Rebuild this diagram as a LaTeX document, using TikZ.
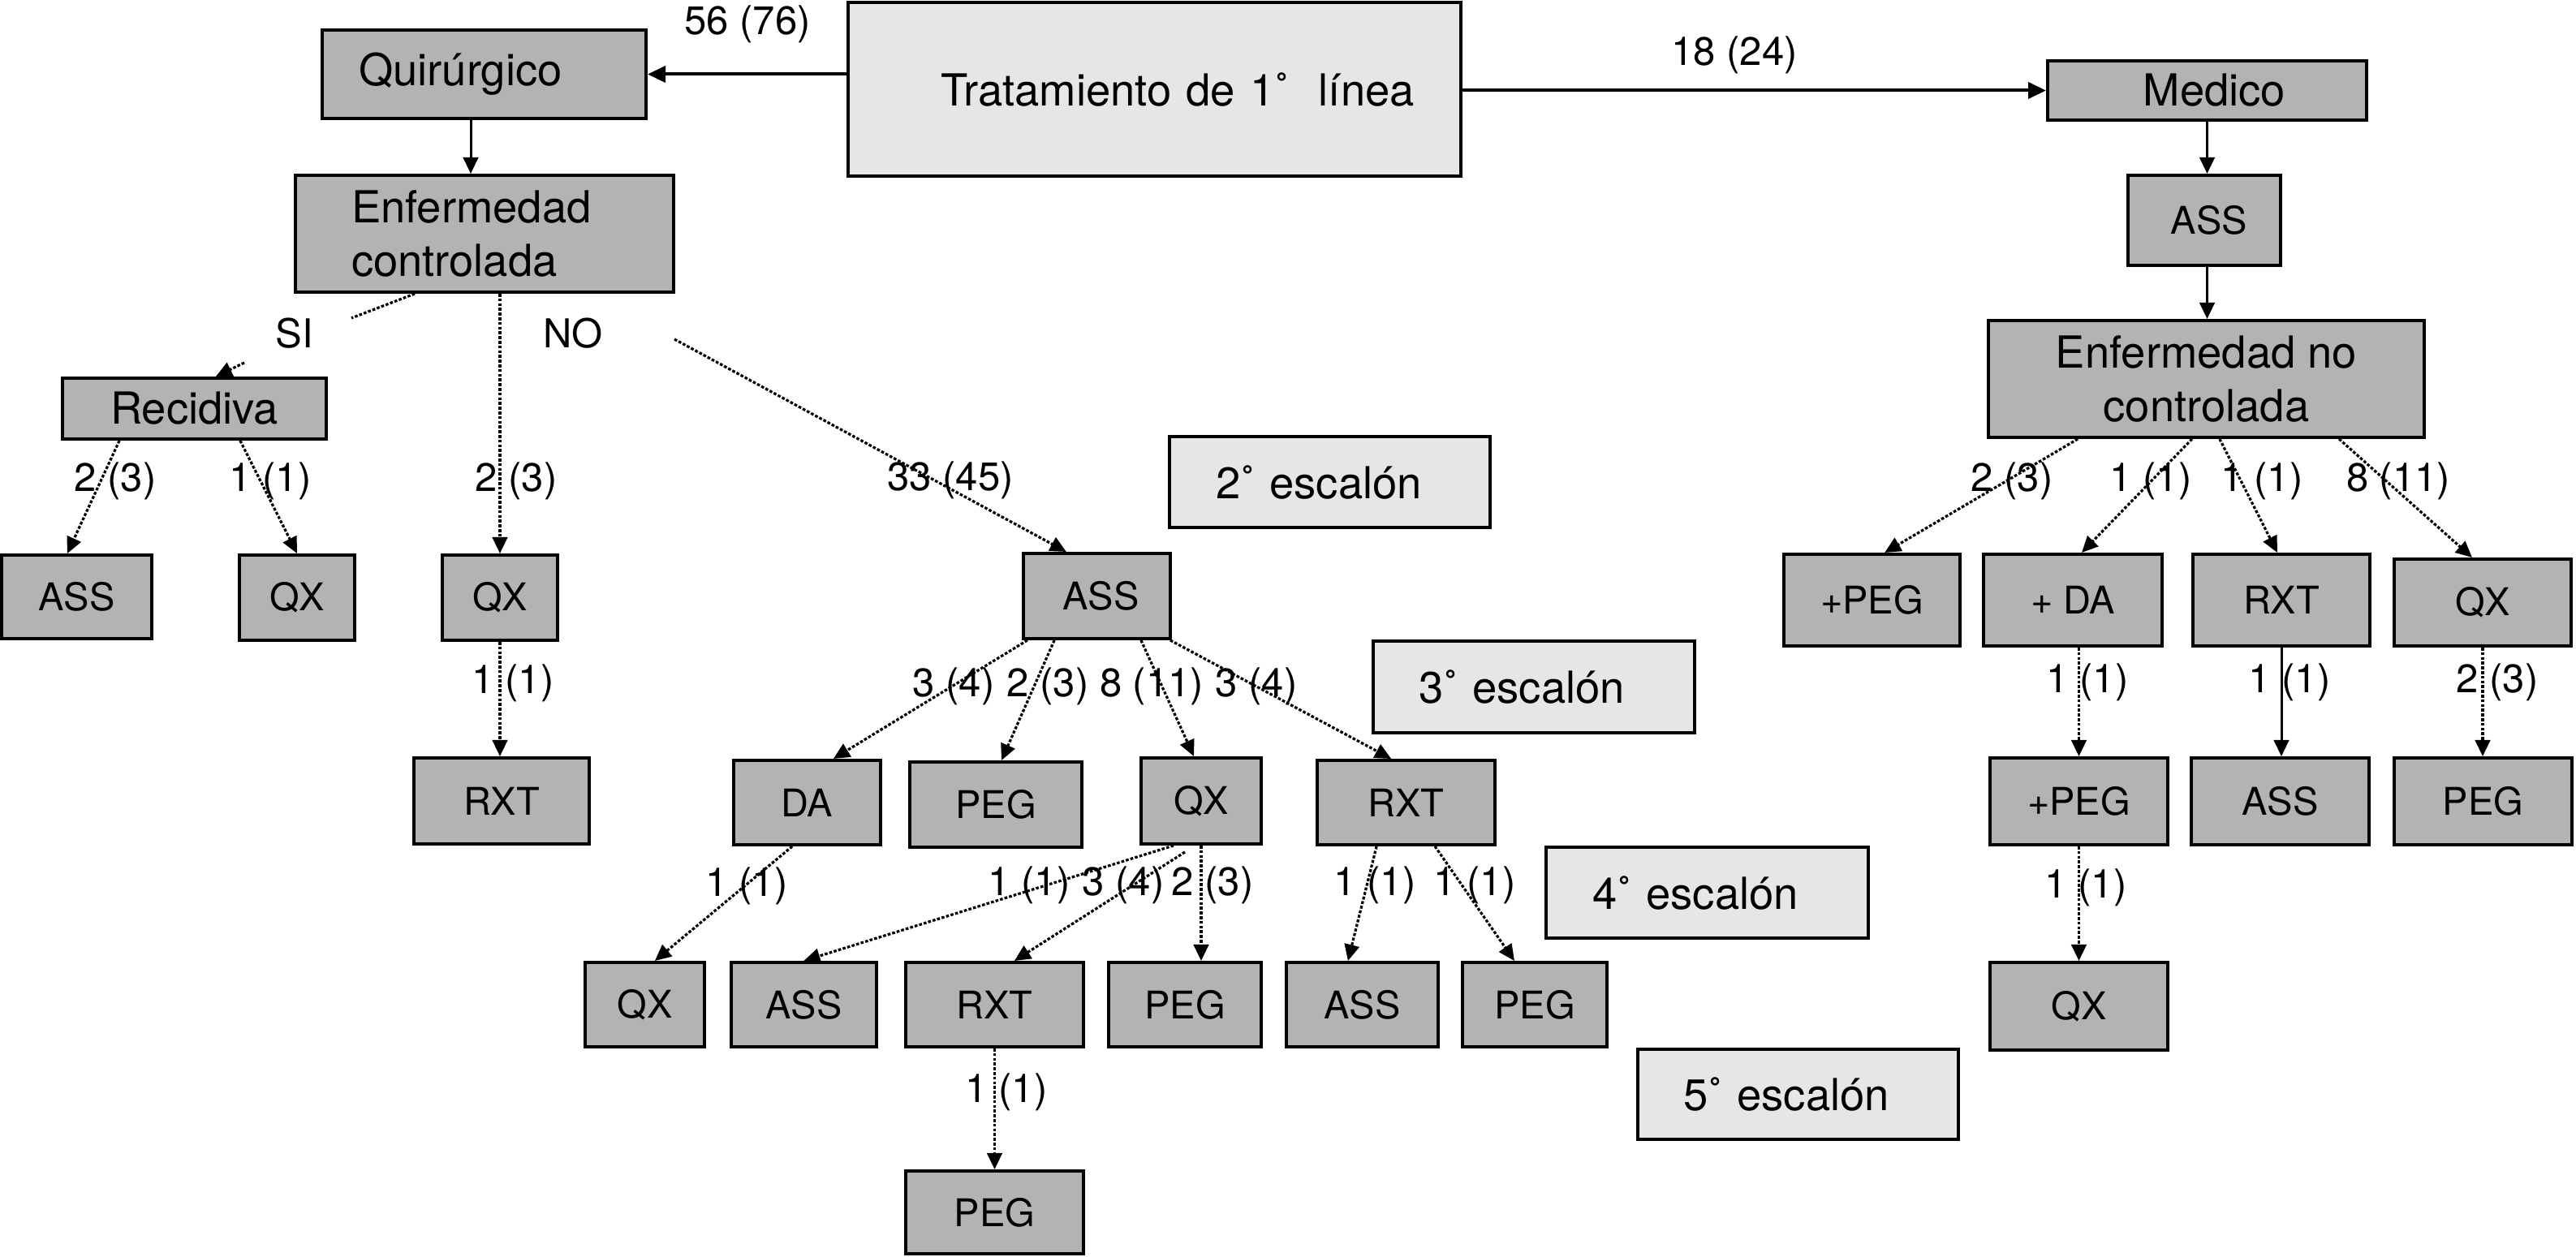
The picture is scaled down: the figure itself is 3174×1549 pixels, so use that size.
\documentclass[tikz,border=0pt]{standalone}
\usepackage{fontspec}
\setmainfont{TeX Gyre Heros}
\usetikzlibrary{arrows.meta}
\definecolor{boxgray}{HTML}{B3B3B3}
\definecolor{lightfill}{HTML}{E6E6E6}
\begin{document}
\begin{tikzpicture}[x=0.25pt, y=-0.25pt,
  box/.style={draw=black, line width=1pt, fill=boxgray, inner sep=0pt, font=\fontsize{11.75}{14}\selectfont},
  bigbox/.style={box, font=\fontsize{13.6}{16.5}\selectfont},
  lightbox/.style={bigbox, fill=lightfill},
  lab/.style={font=\fontsize{12.25}{14}\selectfont, inner sep=0pt},
  mainline/.style={line width=1pt, -{Triangle[length=5.5pt,width=5pt]}},
  thinmain/.style={line width=0.75pt, -{Triangle[length=5pt,width=4.6pt]}},
  dotline/.style={line width=0.8pt, dash pattern=on 0.9pt off 0.55pt},
  dots/.style={dotline, -{Triangle[length=5pt,width=4.6pt]}}]
\useasboundingbox (0,0) rectangle (3174,1549);

% top level
\node[lightbox, text width=188.75pt, minimum height=53.5pt, align=left] (trat) at (1422.5,110) {\hspace*{28.5pt}Tratamiento de 1˚~~línea};
\node[bigbox, text width=99.75pt, minimum height=27.25pt, align=left] (quir) at (596.5,91.5) {\hspace*{11.25pt}Quirúrgico};
\node[bigbox, minimum width=98.25pt, minimum height=18.25pt] (medico) at (2719.5,111.5) {\hspace*{4.5pt}Medico};

% left branch
\node[bigbox, text width=116.5pt, minimum height=36pt, align=left] (enfc) at (597,288) {\hspace*{17.25pt}Enfermedad\\\hspace*{17.25pt}controlada};
\node[bigbox, minimum width=81.25pt, minimum height=18.75pt] (recid) at (239.5,503.5) {Recidiva};
\node[box, minimum width=46.25pt, minimum height=25.75pt] (ass1) at (94.5,735.5) {ASS};
\node[box, minimum width=35.5pt, minimum height=26.25pt] (qx1) at (366,736.5) {QX};
\node[box, minimum width=35.5pt, minimum height=26.25pt] (qx2) at (616,736.5) {QX};
\node[box, minimum width=54pt, minimum height=26.5pt] (rxt1) at (618,987) {RXT};
\node[box, minimum width=45.25pt, minimum height=26.25pt] (assm) at (1351.5,734.5) {\hspace*{2.5pt}ASS};
\node[box, minimum width=45.25pt, minimum height=26pt] (da) at (994.5,989) {DA};
\node[box, minimum width=53pt, minimum height=26.25pt] (peg1) at (1227,991.5) {PEG};
\node[box, minimum width=37pt, minimum height=26.5pt] (qx3) at (1480,987) {QX};
\node[box, minimum width=54.75pt, minimum height=26pt] (rxt2) at (1732.5,989) {RXT};
\node[box, minimum width=36.75pt, minimum height=26pt] (qx4) at (794.5,1238) {QX};
\node[box, minimum width=44.75pt, minimum height=26pt] (ass2) at (990.5,1238) {ASS};
\node[box, minimum width=54.75pt, minimum height=26pt] (rxt3) at (1225.5,1238) {RXT};
\node[box, minimum width=47pt, minimum height=26pt] (peg2) at (1460,1238) {PEG};
\node[box, minimum width=46.75pt, minimum height=26pt] (ass3) at (1678.5,1238) {ASS};
\node[box, minimum width=44.5pt, minimum height=26pt] (peg3) at (1891,1238) {PEG};
\node[box, minimum width=54.75pt, minimum height=25.5pt] (peg4) at (1225.5,1494) {PEG};

% right branch
\node[box, minimum width=47pt, minimum height=27.75pt] (assr) at (2716,271.5) {\hspace*{3pt}ASS};
\node[bigbox, minimum width=134.25pt, minimum height=36pt, align=center] (enfn) at (2718.5,467) {Enfermedad no\\controlada};
\node[box, minimum width=54.25pt, minimum height=28.25pt] (pegp1) at (2306.5,739.5) {+PEG};
\node[box, minimum width=55pt, minimum height=28.25pt] (pda) at (2554,739.5) {+ DA};
\node[box, minimum width=54.5pt, minimum height=28.25pt] (rxtr) at (2811,739.5) {RXT};
\node[box, minimum width=54.5pt, minimum height=26.75pt] (qxr) at (3059,742.5) {QX};
\node[box, minimum width=54.75pt, minimum height=26.75pt] (pegp2) at (2561.5,987.5) {+PEG};
\node[box, minimum width=54.75pt, minimum height=26.75pt] (assr2) at (2809.5,987.5) {ASS};
\node[box, minimum width=54.75pt, minimum height=26.75pt] (pegr) at (3059.5,987.5) {PEG};
\node[box, minimum width=54.75pt, minimum height=27pt] (qxr2) at (2561.5,1240) {QX};

% escalones
\node[lightbox, text width=98.75pt, minimum height=28pt, align=left] (esc2) at (1638.5,594) {\hspace*{14.25pt}2˚ escalón};
\node[lightbox, text width=99pt, minimum height=28.25pt, align=left] (esc3) at (1890,846.5) {\hspace*{14pt}3˚ escalón};
\node[lightbox, text width=99.25pt, minimum height=28pt, align=left] (esc4) at (2103.5,1100) {\hspace*{14.25pt}4˚ escalón};
\node[lightbox, text width=98.75pt, minimum height=27.75pt, align=left] (esc5) at (2215.5,1348.5) {\hspace*{14pt}5˚ escalón};

% connectors
\draw[mainline] (trat.west |- quir.center) -- (quir.east);
\draw[mainline] (trat.east |- medico.center) -- (medico.west);
\draw[thinmain] ([xshift=-4.125pt]quir.south) -- ([xshift=-4.125pt]quir.south |- enfc.north);
\draw[thinmain] (medico.south) -- (medico.south |- assr.north);
\draw[thinmain] (medico.south |- assr.south) -- (medico.south |- enfn.north);

\coordinate (si1) at (433,392);
\coordinate (si2) at (301,447);
\coordinate (no1) at (831,418);
\draw[dotline] ([xshift=-21.5pt]enfc.south) -- (si1);
\draw[dots] (si2) -- ([xshift=6.6pt]recid.north);
\draw[dots] (no1) -- ([xshift=-9.4pt]assm.north);
\draw[dots] (qx2.north |- enfc.south) -- (qx2.north);
\draw[dots] ([xshift=-23.1pt]recid.south) -- ([xshift=-2.9pt]ass1.north);
\draw[dots] ([xshift=14.1pt]recid.south) -- (qx1.north);
\draw[dots] (qx2.south) -- (qx2.south |- rxt1.north);
\draw[dots] ([xshift=-21.4pt]assm.south) -- ([xshift=8.1pt]da.north);
\draw[dots] ([xshift=-13.1pt]assm.south) -- ([xshift=1.75pt]peg1.north);
\draw[dots] ([xshift=13.6pt]assm.south) -- ([xshift=-2.25pt]qx3.north);
\draw[dots] ([xshift=22.6pt]assm.south) -- ([xshift=-4.6pt]rxt2.north);
\draw[dots] ([xshift=-4.6pt]da.south) -- ([xshift=3.1pt]qx4.north);
\draw[dots] ([xshift=-8.5pt]qx3.south) -- (ass2.north);
\draw[dots] ([xshift=-5pt,yshift=-2pt]qx3.south) -- ([xshift=6.1pt]rxt3.north);
\draw[dots] (qx3.south) -- (qx3.south |- peg2.north);
\draw[dots] ([xshift=-9.1pt]rxt2.south) -- ([xshift=-4.4pt]ass3.north);
\draw[dots] ([xshift=8.9pt]rxt2.south) -- ([xshift=-6.25pt]peg3.north);
\draw[dots] (rxt3.south) -- (peg4.north);
\draw[dots] ([xshift=-39.6pt]enfn.south) -- ([xshift=3.9pt]pegp1.north);
\draw[dots] ([xshift=-4.4pt]enfn.south) -- ([xshift=2.75pt]pda.north);
\draw[dots] ([xshift=4.1pt]enfn.south) -- ([xshift=-1.25pt]rxtr.north);
\draw[dots] ([xshift=40.9pt]enfn.south) -- ([xshift=-3.25pt]qxr.north);
\draw[dots] (pegp2.north |- pda.south) -- (pegp2.north);
\draw[thinmain] (rxtr.south) -- (rxtr.south |- assr2.north);
\draw[dots] (qxr.south) -- (qxr.south |- pegr.north);
\draw[dots] (pegp2.south) -- (qxr2.north);

% labels
\node[lab] (l01) at (921,30) {56 (76)};
\node[lab] (l02) at (2137,68) {18 (24)};
\node[lab] (l03) at (363,411) {SI};
\node[lab] (l04) at (706,411) {NO};
\node[lab] (l05) at (142,593) {2 (3)};
\node[lab] (l06) at (333,593) {1 (1)};
\node[lab] (l07) at (636,593) {2 (3)};
\node[lab] (l08) at (1171,592) {33 (45)};
\node[lab] (l09) at (632,842) {1 (1)};
\node[lab] (l10) at (1175,846) {3 (4)};
\node[lab] (l11) at (1291,846) {2 (3)};
\node[lab] (l12) at (1419,846) {8 (11)};
\node[lab] (l13) at (1548,846) {3 (4)};
\node[lab] (l14) at (920,1092) {1 (1)};
\node[lab] (l15) at (1268,1091) {1 (1)};
\node[lab] (l16) at (1384,1091) {3 (4)};
\node[lab] (l17) at (1494,1091) {2 (3)};
\node[lab] (l18) at (1694,1091) {1 (1)};
\node[lab] (l19) at (1817,1091) {1 (1)};
\node[lab] (l20) at (1240,1346) {1 (1)};
\node[lab] (l21) at (2479,593) {2 (3)};
\node[lab] (l22) at (2650,593) {1 (1)};
\node[lab] (l23) at (2787,593) {1 (1)};
\node[lab] (l24) at (2955,593) {8 (11)};
\node[lab] (l25) at (2572,841) {1 (1)};
\node[lab] (l26) at (2821,841) {1 (1)};
\node[lab] (l27) at (3077,841) {2 (3)};
\node[lab] (l28) at (2570,1094) {1 (1)};
\end{tikzpicture}
\end{document}
